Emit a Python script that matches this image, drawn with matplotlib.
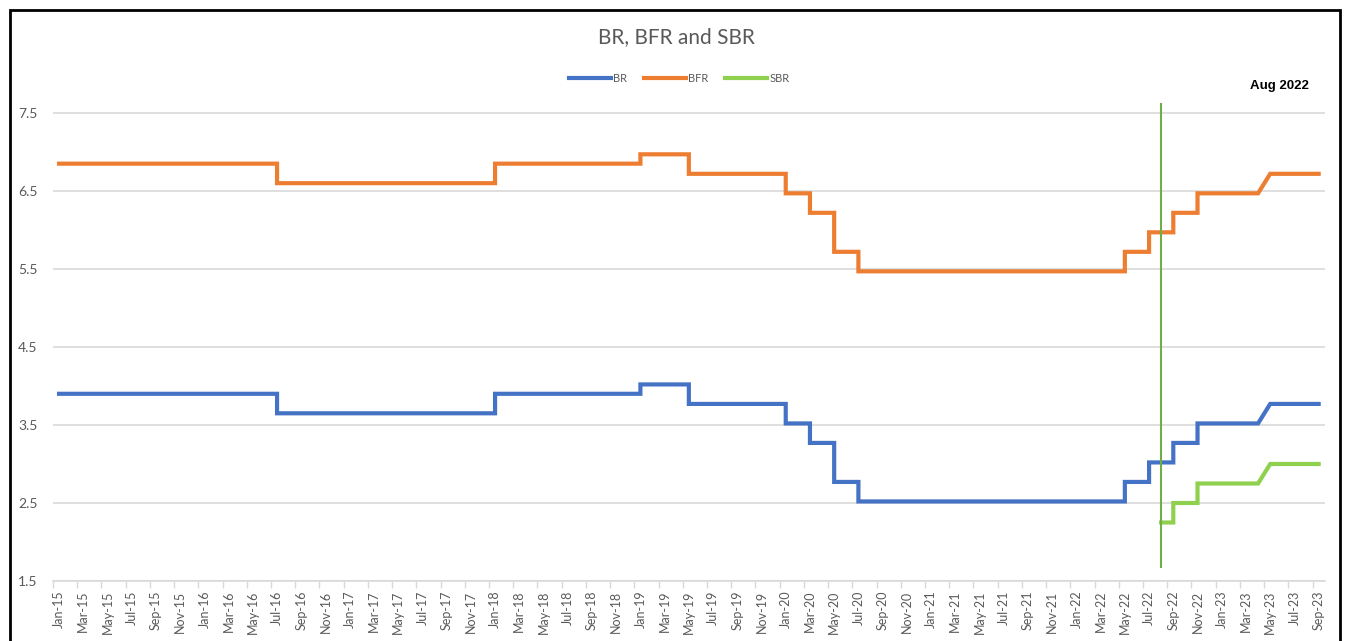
import numpy as np
import pandas as pd
import matplotlib
matplotlib.use("Agg")
import matplotlib.pyplot as plt
from matplotlib.patches import Rectangle

plt.rcParams['font.family'] = ['Lato', 'DejaVu Sans']

# rate changes (month the new rate starts)
br_dates = ['2015-01', '2016-07', '2018-01', '2019-01', '2019-05', '2020-01', '2020-03',
            '2020-05', '2020-07', '2022-05', '2022-07', '2022-09', '2022-11', '2023-05']
br = [3.90, 3.65, 3.90, 4.02, 3.77, 3.52, 3.27, 2.77, 2.52, 2.77, 3.02, 3.27, 3.52, 3.77]
bfr = [6.85, 6.60, 6.85, 6.97, 6.72, 6.47, 6.22, 5.72, 5.47, 5.72, 5.97, 6.22, 6.47, 6.72]
sbr_dates = ['2022-08', '2022-09', '2022-11', '2023-05']
sbr = [2.25, 2.50, 2.75, 3.00]
ramp_dates = ['2023-05']   # this change is drawn as a slope in the original
end_date = '2023-09'
marker_date = '2022-08'
marker_range = [1.68, 7.62]

start = pd.Period('2015-01', 'M')
months = pd.period_range('2015-01', end_date, freq='M')
tick_labels = [m.strftime('%b-%y') for m in months]


def midx(d):
    return (pd.Period(d, 'M') - start).n


def step_path(dates, vals):
    xs, ys = [], []
    for i, (d, v) in enumerate(zip(dates, vals)):
        x = midx(d)
        if i > 0:
            xs.append(x - 1 if d in ramp_dates else x)
            ys.append(vals[i - 1])
        xs.append(x)
        ys.append(v)
    xs.append(midx(end_date))
    ys.append(vals[-1])
    return xs, ys


fig = plt.figure(figsize=(13.45, 6.41), dpi=100)
ax = fig.add_axes([0.0394, 0.0936, 0.9455, 0.7545])

grey = '#595959'
ax.plot(*step_path(br_dates, br), color='#4472C4', lw=3, label='BR', solid_joinstyle='miter')
ax.plot(*step_path(br_dates, bfr), color='#ED7D31', lw=3, label='BFR', solid_joinstyle='miter')
ax.plot(*step_path(sbr_dates, sbr), color='#8FD14F', lw=3, label='SBR', solid_joinstyle='miter')
ax.plot([midx(marker_date)] * 2, marker_range, color='#70AD47', lw=1.5)

ax.set_ylim(1.5, 7.7)
ax.set_yticks([1.5, 2.5, 3.5, 4.5, 5.5, 6.5, 7.5])
ax.set_xlim(-0.5, len(months) - 0.5)
ax.set_xticks(np.arange(0, len(months), 2))
ax.set_xticklabels(tick_labels[::2], rotation=90)
ax.set_xticks(np.arange(-0.5, len(months), 2), minor=True)
ax.tick_params(axis='x', which='major', length=0, labelsize=9, labelcolor=grey, pad=7)
ax.tick_params(axis='x', which='minor', length=5, color='#D9D9D9', width=1)
ax.tick_params(axis='y', length=0, labelsize=10, labelcolor=grey, pad=11)
ax.grid(axis='y', color='#D9D9D9', lw=1.2)
ax.set_axisbelow(True)
for s in ['top', 'right', 'left']:
    ax.spines[s].set_visible(False)
ax.spines['bottom'].set_color('#D9D9D9')
ax.spines['bottom'].set_linewidth(1.2)

fig.text(0.503, 0.942, 'BR, BFR and SBR', ha='center', va='center', fontsize=15, color=grey)
fig.legend(loc='center', bbox_to_anchor=(0.505, 0.877), ncol=3, frameon=False,
           fontsize=8, labelcolor=grey, handlelength=3.8, handletextpad=0.2, columnspacing=1.5)
fig.text(0.951, 0.866, 'Aug 2022', ha='center', va='center', fontsize=9.5,
         fontweight='bold', family='Liberation Sans')

# chart area border
fig.patches.append(Rectangle((0.0075, -0.05), 0.989, 1.034, transform=fig.transFigure,
                             fill=False, edgecolor='black', lw=2))

fig.savefig('out.png', dpi=100)
